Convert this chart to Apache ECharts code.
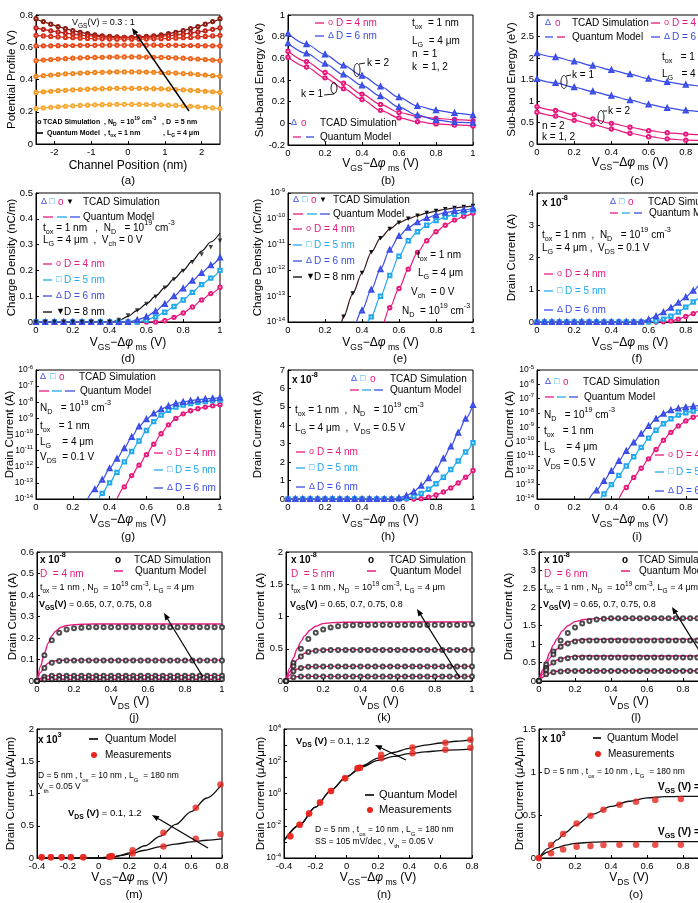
<!DOCTYPE html>
<html><head><meta charset="utf-8">
<script src="https://cdn.jsdelivr.net/npm/echarts@6/dist/echarts.min.js"></script>
<style>html,body{margin:0;padding:0;background:#fff;}#c{width:698px;height:903px;}</style>
</head><body><div id="c"></div>
<script>
// ---------------- DATA ----------------
// (a) potential profile vs channel position, VGS = 1.0 ... 0.3 V
const xA = [-2.5,-2.3,-2.1,-1.9,-1.7,-1.5,-1.3,-1.1,-0.9,-0.7,-0.5,-0.3,-0.1,0.1,0.3,0.5,0.7,0.9,1.1,1.3,1.5,1.7,1.9,2.1,2.3,2.5];
const aV10 = [.777,.759,.743,.728,.715,.703,.693,.684,.677,.671,.667,.664,.662,.662,.664,.667,.671,.677,.684,.693,.703,.715,.728,.743,.759,.777];
const aV09 = [.720,.711,.702,.695,.688,.682,.676,.672,.668,.665,.662,.661,.660,.660,.661,.662,.665,.668,.672,.676,.682,.688,.695,.702,.711,.720];
const aV08 = [.674,.670,.667,.664,.661,.659,.656,.655,.653,.652,.651,.650,.650,.650,.650,.651,.652,.653,.655,.656,.659,.661,.664,.667,.670,.674];
const aV07 = [.608,.609,.609,.610,.611,.611,.612,.612,.612,.613,.613,.613,.613,.613,.613,.613,.613,.612,.612,.612,.611,.611,.610,.609,.609,.608];
const aV06 = [.517,.521,.524,.527,.529,.532,.534,.536,.537,.538,.539,.540,.540,.540,.540,.539,.538,.537,.536,.534,.532,.529,.527,.524,.521,.517];
const aV05 = [.420,.424,.428,.431,.435,.437,.440,.442,.444,.445,.446,.447,.447,.447,.447,.446,.445,.444,.442,.440,.437,.435,.431,.428,.424,.420];
const aV04 = [.320,.324,.327,.331,.333,.336,.338,.340,.342,.343,.344,.345,.345,.345,.345,.344,.343,.342,.340,.338,.336,.333,.331,.327,.324,.320];
const aV03 = [.220,.224,.228,.231,.234,.237,.239,.241,.243,.244,.245,.246,.246,.246,.246,.245,.244,.243,.241,.239,.237,.234,.231,.228,.224,.220];
// (b),(c) sub-band energy
const xB = [0,0.1,0.2,0.3,0.4,0.5,0.6,0.7,0.8,0.9,1.0];
const b6k2 = [.83,.73,.635,.535,.44,.34,.24,.16,.12,.095,.075];
const b6k1 = [.74,.645,.55,.45,.35,.25,.15,.075,.03,.012,.005];
const b4k2 = [.665,.57,.47,.37,.27,.175,.10,.065,.045,.035,.025];
const b4k1 = [.61,.52,.42,.32,.22,.12,.05,.015,-.005,-.015,-.025];
const c6k1 = [2.11,2.02,1.92,1.82,1.72,1.62,1.52,1.44,1.38,1.34,1.31];
const c6k2 = [1.51,1.42,1.32,1.22,1.12,1.02,0.92,0.84,0.78,0.75,0.73];
const c4k2 = [0.87,0.78,0.68,0.58,0.48,0.39,0.31,0.26,0.23,0.21,0.20];
const c4k1 = [0.74,0.65,0.55,0.45,0.35,0.25,0.17,0.12,0.09,0.08,0.07];
// (d) charge density (linear)
const xD = [0,.05,.1,.15,.2,.25,.3,.35,.4,.45,.5,.55,.6,.65,.7,.75,.8,.85,.9,.95,1];
const dBlackL = [0,0,0,0,0,0,0,0,0,.006,.022,.045,.07,.1,.133,.167,.2,.237,.275,.31,.345];
const dBlackT = [0,0,0,0,0,0,0,0,0,.008,.025,.045,.07,.098,.133,.165,.198,.232,.262,.29,.315];
const dBlue = [0,0,0,0,0,0,0,0,0,0,0,.008,.02,.042,.07,.1,.13,.16,.19,.22,.25];
const dCyan = [0,0,0,0,0,0,0,0,0,0,0,0,.008,.02,.038,.06,.085,.115,.145,.17,.2];
const dPink = [0,0,0,0,0,0,0,0,0,0,0,0,0,0,.005,.018,.035,.058,.085,.11,.135];
// (e) charge density (log)
const xEk = [0.29,0.3,0.35,0.4,0.45,0.5,0.55,0.6,0.65,0.7,0.75,0.8,0.85,0.9,0.95,1.0];
const eBlack = [1e-14,1.58e-14,1.26e-13,7.94e-13,5.01e-12,1.78e-11,3.98e-11,7.08e-11,1e-10,1.32e-10,1.66e-10,2e-10,2.34e-10,2.63e-10,2.88e-10,3.16e-10];
const xEb = [0.37,0.4,0.45,0.5,0.55,0.6,0.65,0.7,0.75,0.8,0.85,0.9,0.95,1.0];
const eBlue = [1e-14,2.82e-14,1.78e-13,1.12e-12,6.31e-12,2.14e-11,4.47e-11,7.41e-11,1.07e-10,1.41e-10,1.74e-10,2e-10,2.24e-10,2.51e-10];
const xEc = [0.43,0.45,0.5,0.55,0.6,0.65,0.7,0.75,0.8,0.85,0.9,0.95,1.0];
const eCyan = [1e-14,1.58e-14,1e-13,6.31e-13,3.55e-12,1.41e-11,3.16e-11,5.62e-11,8.51e-11,1.17e-10,1.51e-10,1.82e-10,2.14e-10];
const xEp = [0.52,0.55,0.6,0.65,0.7,0.75,0.8,0.85,0.9,0.95,1.0];
const ePink = [1e-14,3.55e-14,2e-13,1.12e-12,5.01e-12,1.41e-11,3.16e-11,5.62e-11,8.91e-11,1.26e-10,1.66e-10];
// (f),(h) drain current linear (x1e-8 A)
const xF = [0,.04,.08,.12,.16,.2,.24,.28,.32,.36,.4,.44,.48,.52,.56,.6,.64,.68,.72,.76,.8,.84,.88,.92,.96,1];
const fBlue = [0,0,0,0,0,0,0,0,0,0,0,0,0,0,.01,.08,.18,.3,.44,.6,.77,.97,1.18,1.41,1.66,1.92];
const fCyan = [0,0,0,0,0,0,0,0,0,0,0,0,0,0,0,.005,.03,.09,.18,.31,.46,.62,.79,.98,1.18,1.38];
const fPink = [0,0,0,0,0,0,0,0,0,0,0,0,0,0,0,0,0,.005,.03,.09,.17,.26,.37,.5,.64,.79];
const hBlue = [0,0,0,0,0,0,0,0,0,0,0,0,0,0,0,.05,.18,.4,.72,1.12,1.6,2.2,2.85,3.6,4.35,5.1];
const hCyan = [0,0,0,0,0,0,0,0,0,0,0,0,0,0,0,0,.04,.14,.3,.53,.83,1.18,1.6,2.06,2.55,3.05];
const hPink = [0,0,0,0,0,0,0,0,0,0,0,0,0,0,0,0,0,0,.02,.1,.22,.38,.6,.87,1.18,1.55];
// (g),(i) drain current log (A)
const xGb = [0.28,0.32,0.36,0.4,0.44,0.48,0.52,0.56,0.6,0.64,0.68,0.72,0.76,0.8,0.84,0.88,0.92,0.96,1.0];
const xGc = [0.34,0.36,0.4,0.44,0.48,0.52,0.56,0.6,0.64,0.68,0.72,0.76,0.8,0.84,0.88,0.92,0.96,1.0];
const xGp = [0.44,0.48,0.52,0.56,0.6,0.64,0.68,0.72,0.76,0.8,0.84,0.88,0.92,0.96,1.0];
const gBlue = [1e-14,3.98e-14,1.58e-13,7.94e-13,3.16e-12,1.41e-11,7.08e-11,3.16e-10,8.91e-10,2e-9,3.72e-9,5.89e-9,8.32e-9,1.05e-8,1.26e-8,1.45e-8,1.58e-8,1.74e-8,1.91e-8];
const gCyan = [1e-14,2.24e-14,1e-13,4.47e-13,2e-12,8.91e-12,3.98e-11,1.78e-10,6.31e-10,1.58e-9,3.16e-9,5.01e-9,6.76e-9,8.32e-9,1e-8,1.12e-8,1.26e-8,1.35e-8];
const gPink = [1e-14,5.62e-14,2.82e-13,1.26e-12,5.62e-12,2.51e-11,1.12e-10,3.98e-10,1e-9,1.91e-9,2.95e-9,3.98e-9,5.01e-9,6.03e-9,7.08e-9];
const iBlue = [1e-14,3.98e-14,1.78e-13,8.91e-13,4.47e-12,2.24e-11,8.91e-11,3.55e-10,1.26e-9,3.98e-9,8.91e-9,1.58e-8,2.09e-8,2.51e-8,2.95e-8,3.39e-8,3.89e-8,4.47e-8,5.01e-8];
const iCyan = [1e-14,2.24e-14,1e-13,4.47e-13,2e-12,8.91e-12,3.98e-11,1.78e-10,6.31e-10,1.78e-9,3.98e-9,7.08e-9,1.05e-8,1.38e-8,1.7e-8,2e-8,2.29e-8,2.51e-8];
const iPink = [1e-14,6.31e-14,3.16e-13,1.41e-12,6.31e-12,2.82e-11,1.26e-10,4.47e-10,1.26e-9,2.82e-9,5.01e-9,7.59e-9,1e-8,1.26e-8,1.51e-8];
// (j),(k),(l) output characteristics (x1e-8 A)
const xJL = [0,.02,.04,.06,.08,.1,.13,.16,.2,.25,.3,.5,1];
const xJT = [0,.04,.08,.12,.16,.2,.24,.28,.32,.36,.4,.44,.48,.52,.56,.6,.64,.68,.72,.76,.8,.84,.88,.92,.96,1];
const jL1 = [0,.07,.13,.175,.21,.232,.25,.258,.262,.264,.265,.265,.265];
const jL2 = [0,.04,.068,.083,.091,.094,.096,.097,.097,.097,.097,.097,.097];
const jL3 = [0,.013,.021,.024,.025,.026,.026,.026,.026,.026,.026,.026,.026];
const jL4 = [0,.005,.007,.008,.008,.008,.008,.008,.008,.008,.008,.008,.008];
const jT1 = [0,.12,.19,.225,.24,.245,.248,.25,.25,.25,.25,.25,.25,.25,.25,.25,.25,.25,.25,.25,.25,.25,.25,.25,.25,.25];
const jT2 = [0,.06,.085,.093,.095,.095,.095,.095,.095,.095,.095,.095,.095,.095,.095,.095,.095,.095,.095,.095,.095,.095,.095,.095,.095,.095];
const jT3 = [0,.02,.025,.025,.025,.025,.025,.025,.025,.025,.025,.025,.025,.025,.025,.025,.025,.025,.025,.025,.025,.025,.025,.025,.025,.025];
const jT4 = [0,.007,.008,.008,.008,.008,.008,.008,.008,.008,.008,.008,.008,.008,.008,.008,.008,.008,.008,.008,.008,.008,.008,.008,.008,.008];
const kL1 = [0,.2,.36,.5,.61,.7,.79,.85,.89,.905,.91,.913,.915];
const kL2 = [0,.14,.25,.33,.39,.43,.46,.475,.483,.486,.487,.487,.487];
const kL3 = [0,.09,.15,.185,.205,.215,.222,.225,.226,.227,.227,.227,.227];
const kL4 = [0,.04,.06,.067,.07,.071,.072,.072,.072,.072,.072,.072,.072];
const kT1 = [0,.28,.5,.65,.75,.8,.83,.85,.86,.865,.87,.87,.87,.87,.87,.87,.87,.87,.87,.87,.87,.87,.87,.87,.87,.88];
const kT2 = [0,.23,.38,.45,.47,.478,.48,.48,.48,.48,.48,.48,.48,.48,.48,.48,.48,.48,.48,.48,.48,.48,.48,.48,.48,.48];
const kT3 = [0,.15,.2,.22,.225,.225,.225,.225,.225,.225,.225,.225,.225,.225,.225,.225,.225,.225,.225,.225,.225,.225,.225,.225,.225,.225];
const kT4 = [0,.06,.07,.07,.07,.07,.07,.07,.07,.07,.07,.07,.07,.07,.07,.07,.07,.07,.07,.07,.07,.07,.07,.07,.07,.07];
const lL1 = [0,.3,.55,.78,.98,1.15,1.36,1.5,1.61,1.67,1.69,1.7,1.7];
const lL2 = [0,.24,.45,.62,.76,.87,.98,1.05,1.1,1.125,1.13,1.135,1.135];
const lL3 = [0,.18,.32,.43,.51,.57,.62,.65,.67,.677,.68,.68,.68];
const lL4 = [0,.1,.17,.22,.25,.265,.275,.278,.28,.28,.28,.28,.28];
const lT1 = [0,.45,.8,1.1,1.3,1.45,1.56,1.63,1.67,1.69,1.7,1.7,1.7,1.7,1.7,1.7,1.7,1.7,1.7,1.7,1.7,1.7,1.7,1.7,1.7,1.7];
const lT2 = [0,.35,.72,.93,1.02,1.07,1.09,1.1,1.1,1.1,1.1,1.1,1.1,1.1,1.1,1.1,1.1,1.1,1.1,1.1,1.1,1.1,1.1,1.1,1.1,1.1];
const lT3 = [0,.3,.5,.58,.62,.635,.64,.64,.64,.64,.64,.64,.64,.64,.64,.64,.64,.64,.64,.64,.64,.64,.64,.64,.64,.64];
const lT4 = [0,.18,.24,.26,.27,.27,.27,.27,.27,.27,.27,.27,.27,.27,.27,.27,.27,.27,.27,.27,.27,.27,.27,.27,.27,.27];
// (m) transfer, linear (x1e3 uA/um)
const xML = [-0.4,-0.3,-0.2,-0.1,0,0.05,0.1,0.15,0.2,0.3,0.4,0.5,0.6,0.7,0.8];
const mHigh = [0,0,0,0,0.002,0.008,0.02,0.045,0.08,0.19,0.34,0.52,0.72,0.93,1.15];
const mLow = [0,0,0,0,0.002,0.008,0.02,0.04,0.065,0.12,0.175,0.215,0.25,0.275,0.295];
const xMM = [-0.37,-0.31,-0.24,-0.18,-0.1,0.07,0.085,0.22,0.42,0.63,0.79];
const mMeasLow = [0.01,0.01,0.01,0.01,0.01,0.02,0.025,0.07,0.18,0.3,0.37];
const mMeasHigh = [0.01,0.01,0.01,0.01,0.01,0.02,0.03,0.12,0.39,0.78,1.14];
// (n) transfer, log (uA/um)
const xNL = [-0.4,-0.3,-0.2,-0.1,0,0.1,0.2,0.3,0.4,0.5,0.6,0.7,0.8];
const nLow = [1.2e-3,1.12e-2,0.141,1.58,11.2,44.7,112,200,295,380,457,513,562];
const nHigh = [1.2e-3,1.12e-2,0.141,1.58,11.2,52.5,158,355,631,1000,1350,1740,2090];
const xNM = [-0.36,-0.3,-0.24,-0.17,-0.1,-0.01,0.07,0.085,0.22,0.42,0.63,0.79];
const nMeasLow = [2.24e-3,1.17e-2,5.75e-2,0.275,1.41,8.7,36.3,39.8,151,316,525,692];
const nMeasHigh = [2.24e-3,1.17e-2,5.75e-2,0.275,1.41,8.7,36.3,39.8,251,724,1410,2140];
// (o) output, measured (x1e3 uA/um)
const xOL = [0,0.05,0.1,0.15,0.2,0.3,0.4,0.5,0.6,0.7,0.8,0.9,1.0];
const oHigh = [0,0.11,0.21,0.3,0.38,0.51,0.6,0.66,0.7,0.713,0.716,0.716,0.716];
const oLow = [0,0.07,0.12,0.15,0.17,0.185,0.19,0.19,0.19,0.19,0.19,0.19,0.19];
const xOM = [0,0.067,0.134,0.209,0.286,0.358,0.447,0.539,0.646,0.788,0.93];
const oMeasHigh = [0,0.15,0.28,0.4,0.49,0.56,0.62,0.655,0.675,0.685,0.69];
const oMeasLow = [0,0.055,0.1,0.13,0.14,0.15,0.155,0.155,0.155,0.155,0.155];
const xTicksA = [-2,-1,0,1,2];

// ---------------- STYLE / BUILD ----------------
const FF = 'Liberation Sans, Arial, Helvetica, sans-serif';
const PINK='#e8197d', BLUE='#3a4ce6', CYAN='#20a9ee', RED='#e8261e', BLK='#111';
const ACOL = ['#8a1b12','#be2118','#da3019','#e8481b','#ee661c','#f2841d','#f59b25','#f7aa34'];

function R(fs,c,b){
  c=c||'#000'; const w=b?'bold':'normal'; const sf=Math.round(fs*0.72*10)/10;
  const base={fontFamily:FF,fill:c,color:c};
  return {
    s:Object.assign({},base,{fontSize:sf,fontWeight:w,lineHeight:sf+1,verticalAlign:'bottom'}),
    p:Object.assign({},base,{fontSize:sf,fontWeight:w,lineHeight:sf+1,verticalAlign:'top'}),
    i:Object.assign({},base,{fontSize:fs,fontWeight:w,fontStyle:'italic'}),
    B:Object.assign({},base,{fontSize:fs,fontWeight:'bold'}),
    S:Object.assign({},base,{fontSize:sf,fontWeight:'bold',lineHeight:sf+1,verticalAlign:'bottom'})
  };
}
const G=[];
function T(x,y,text,o){o=o||{};const fs=o.fs||10,c=o.c||'#000';
  return {type:'text',x:x,y:y,z:100,silent:true,style:{text:text,fill:c,fontSize:fs,fontFamily:FF,fontWeight:o.b?'bold':'normal',align:o.al||'left',verticalAlign:'middle',lineHeight:Math.round(fs*1.6),rich:R(fs,c,o.b)}};}
function L(x1,y1,x2,y2,c,w){return {type:'line',z:100,silent:true,shape:{x1:x1,y1:y1,x2:x2,y2:y2},style:{stroke:c||'#000',lineWidth:w||1.3}};}
function E(cx,cy,rx,ry){return {type:'ellipse',z:100,silent:true,shape:{cx:cx,cy:cy,rx:rx,ry:ry},style:{fill:'none',stroke:'#000',lineWidth:0.9}};}
function D(cx,cy,r,c){return {type:'circle',z:100,silent:true,shape:{cx:cx,cy:cy,r:r},style:{fill:c}};}
function A(x1,y1,x2,y2,w){const an=Math.atan2(y2-y1,x2-x1),h=7,hw=2.8;const bx=x2-h*Math.cos(an),by=y2-h*Math.sin(an);const px=-Math.sin(an)*hw,py=Math.cos(an)*hw;
  G.push(L(x1,y1,bx,by,'#000',w||1.2),{type:'polygon',z:100,silent:true,shape:{points:[[x2,y2],[bx+px,by+py],[bx-px,by-py]]},style:{fill:'#000'}});}
function leg(x,y,c,g,label){G.push(L(x,y,x+9,y,c,1.3),T(x+13,y,g,{c:c,fs:9}),T(x+21,y,label,{c:c}));}

const grids=[], xAxes=[], yAxes=[], series=[];
function grid(l,t,w,h){grids.push({left:l,top:t,width:w,height:h,show:true,borderColor:'#000',borderWidth:1,backgroundColor:'rgba(0,0,0,0)',containLabel:false,outerBoundsMode:'none'});return grids.length-1;}
const VGS='V{s|GS}−Δ{i|φ}{s| ms} (V)', VDS='V{s|DS} (V)';
const NAMEX={color:'#000',fontSize:12,fontFamily:FF,lineHeight:18,rich:R(12)};
const NAMEY={color:'#000',fontSize:11.5,fontFamily:FF,lineHeight:14};
function axisBase(){return {nameMoveOverlap:false,axisLine:{show:true,onZero:false,lineStyle:{color:'#000',width:1}},axisTick:{show:true,inside:true,length:3,lineStyle:{color:'#000'}},splitLine:{show:false},axisLabel:{color:'#000',fontSize:9.5,fontFamily:FF,margin:3}};}
function xax(gi,min,max,itv,name,gap,extra){const a=Object.assign(axisBase(),{gridIndex:gi,type:'value',min:min,max:max,interval:itv,name:name,nameLocation:'middle',nameGap:gap,nameTextStyle:NAMEX},extra||{});xAxes.push(a);}
function yax(gi,min,max,itv,name,gap){const a=Object.assign(axisBase(),{gridIndex:gi,type:'value',min:min,max:max,interval:itv,name:name,nameLocation:'middle',nameGap:gap,nameTextStyle:NAMEY});yAxes.push(a);}
function ylog(gi,min,max,split,name,gap,evenOnly){const a=Object.assign(axisBase(),{gridIndex:gi,type:'log',logBase:10,min:min,max:max,splitNumber:split,name:name,nameLocation:'middle',nameGap:gap,nameTextStyle:NAMEY});
  a.axisLabel={color:'#000',fontSize:8.5,fontFamily:FF,margin:3,lineHeight:12,formatter:function(v){const e=Math.round(Math.log10(v));if(evenOnly&&e%2!==0)return '';return '10{p|'+e+'}';},rich:{p:{fontSize:6,fontFamily:FF,color:'#000',lineHeight:7,verticalAlign:'top'}}};
  yAxes.push(a);}
function line(gi,xs,ys,color,o){o=o||{};
  return {type:'line',xAxisIndex:gi,yAxisIndex:gi,animation:false,silent:true,clip:false,
    data:xs.map(function(x,k){return (o.skip0&&k===0)?{value:[x,ys[k]],symbol:'none'}:[x,ys[k]];}),
    smooth:o.smooth===undefined?0.3:o.smooth,smoothMonotone:'x',
    symbol:o.sym||'none',showSymbol:!!o.sym,symbolSize:o.ss||4,symbolRotate:o.rot||0,
    lineStyle:{color:color,width:o.w||1.2},itemStyle:{color:o.sc||color,borderWidth:0.9},z:o.z||2};}
function dots(gi,xs,ys,color,sym,ss,o){o=o||{};
  return {type:'scatter',xAxisIndex:gi,yAxisIndex:gi,animation:false,silent:true,clip:false,
    data:xs.map(function(x,k){return [x,ys[k]];}),symbol:sym,symbolSize:ss,symbolRotate:o.rot||0,
    itemStyle:{color:color,borderWidth:0.9},z:3};}
const CI={sym:'emptyCircle',ss:3.4}, TR={sym:'emptyTriangle',ss:4}, SQ={sym:'emptyRect',ss:3.4};
function w(o,e){return Object.assign({},o,e);}

// ---- grids ----
const ga=grid(36,15,184,129), gb=grid(288,15,185,130), gc=grid(537,15,186,129);
const gd=grid(36,193,184,129), ge=grid(288,193,185,129), gf=grid(537,193,186,129);
const gg=grid(36,370,184,129), gh=grid(288,370,185,129), gI=grid(537,370,186,129);
const gj=grid(37,552,185,129), gk=grid(286,552,186,129), gl=grid(539,552,180,129);
const gm=grid(37,729,185,129), gn=grid(284,729,188,129), go=grid(539,729,180,129);

// ---- axes ----
xax(ga,-2.5,2.5,null,'Channel Position (nm)',13,{axisLabel:{color:'#000',fontSize:9.5,fontFamily:FF,margin:3,customValues:xTicksA},axisTick:{show:true,inside:true,length:3,lineStyle:{color:'#000'},customValues:xTicksA}});
yax(ga,0,0.8,0.2,'Potential Profile (V)',17);
xax(gb,0,1,0.2,VGS,10); yax(gb,-0.2,1,0.2,'Sub-band Energy (eV)',21);
xax(gc,0,1,0.2,VGS,10); yax(gc,0,3,0.5,'Sub-band Energy (eV)',18);
xax(gd,0,1,0.2,VGS,12); yax(gd,0,0.5,0.1,'Charge Density (nC/m)',17);
xax(ge,0,1,0.2,VGS,12); ylog(ge,1e-14,1e-9,5,'Charge Density (nC/m)',23);
xax(gf,0,1,0.2,VGS,12); yax(gf,0,4,1,'Drain Current (A)',18);
xax(gg,0,1,0.2,VGS,12); ylog(gg,1e-14,1e-6,8,'Drain Current (A)',19);
xax(gh,0,1,0.2,VGS,12); yax(gh,0,7,1,'Drain Current (A)',23);
xax(gI,0,1,0.2,VGS,12); ylog(gI,1e-14,1e-5,9,'Drain Current (A)',20);
xax(gj,0,1,0.2,VDS,12); yax(gj,0,0.6,0.1,'Drain Current (A)',17);
xax(gk,0,1,0.2,VDS,12); yax(gk,0,2,0.5,'Drain Current (A)',18);
xax(gl,0,1,0.2,VDS,12); yax(gl,0,3.5,0.5,'Drain Current (A)',23);
xax(gm,-0.4,0.8,0.2,VGS,11); yax(gm,0,2,0.5,'Drain Current (μA/μm)',19);
xax(gn,-0.4,0.8,0.2,VGS,11); ylog(gn,1e-4,1e4,8,'Drain Current (μA/μm)',16,true);
xax(go,0,1,0.2,VDS,11); yax(go,0,1.5,0.5,'Drain Current (μA/μm)',12);

// ---- series ----
[aV10,aV09,aV08,aV07,aV06,aV05,aV04,aV03].forEach(function(a,k){series.push(line(ga,xA,a,ACOL[k],{sym:'emptyCircle',ss:3.2,w:1.3}));});
series.push(line(gb,xB,b4k1,PINK,CI),line(gb,xB,b4k2,PINK,CI),line(gb,xB,b6k1,BLUE,TR),line(gb,xB,b6k2,BLUE,TR));
series.push(line(gc,xB,c4k1,PINK,CI),line(gc,xB,c4k2,PINK,CI),line(gc,xB,c6k2,BLUE,TR),line(gc,xB,c6k1,BLUE,TR));
series.push(line(gd,xD,dBlackL,BLK),dots(gd,xD,dBlackT,BLK,'triangle',4.5,{rot:180}),
  line(gd,xD,dPink,PINK,CI),line(gd,xD,dCyan,CYAN,SQ),line(gd,xD,dBlue,BLUE,TR));
series.push(line(ge,xEk,eBlack,'#3a1616',{sym:'triangle',ss:4.5,rot:180,sc:BLK,skip0:true}),
  line(ge,xEp,ePink,PINK,w(CI,{skip0:true})),line(ge,xEc,eCyan,CYAN,w(SQ,{skip0:true})),line(ge,xEb,eBlue,BLUE,w(TR,{skip0:true})));
series.push(line(gf,xF,fPink,PINK,CI),line(gf,xF,fCyan,CYAN,SQ),line(gf,xF,fBlue,BLUE,TR));
series.push(line(gg,xGp,gPink,PINK,w(CI,{skip0:true})),line(gg,xGc,gCyan,CYAN,w(SQ,{skip0:true})),line(gg,xGb,gBlue,BLUE,w(TR,{skip0:true})));
series.push(line(gh,xF,hPink,PINK,CI),line(gh,xF,hCyan,CYAN,SQ),line(gh,xF,hBlue,BLUE,TR));
series.push(line(gI,xGp,iPink,PINK,w(CI,{skip0:true})),line(gI,xGc,iCyan,CYAN,w(SQ,{skip0:true})),line(gI,xGb,iBlue,BLUE,w(TR,{skip0:true})));
[[jL1,jT1],[jL2,jT2],[jL3,jT3],[jL4,jT4]].forEach(function(p){series.push(line(gj,xJL,p[0],PINK,{w:1.4}),dots(gj,xJT,p[1],'#222','emptyCircle',4));});
[[kL1,kT1],[kL2,kT2],[kL3,kT3],[kL4,kT4]].forEach(function(p){series.push(line(gk,xJL,p[0],PINK,{w:1.4}),dots(gk,xJT,p[1],'#222','emptyCircle',4));});
[[lL1,lT1],[lL2,lT2],[lL3,lT3],[lL4,lT4]].forEach(function(p){series.push(line(gl,xJL,p[0],PINK,{w:1.4}),dots(gl,xJT,p[1],'#222','emptyCircle',4));});
series.push(line(gm,xML,mHigh,BLK,{w:1.3}),line(gm,xML,mLow,BLK,{w:1.3}),dots(gm,xMM,mMeasHigh,RED,'circle',6.5),dots(gm,xMM,mMeasLow,RED,'circle',6.5));
series.push(line(gn,xNL,nHigh,BLK,{w:1.3}),line(gn,xNL,nLow,BLK,{w:1.3}),dots(gn,xNM,nMeasHigh,RED,'circle',6.5),dots(gn,xNM,nMeasLow,RED,'circle',6.5));
series.push(line(go,xOL,oHigh,BLK,{w:1.3}),line(go,xOL,oLow,BLK,{w:1.3}),dots(go,xOM,oMeasHigh,RED,'circle',6.5),dots(go,xOM,oMeasLow,RED,'circle',6.5));

// ---- annotations ----
// (a)
G.push(T(72,23,'V{s|GS}(V) = 0.3 : 1',{fs:9})); A(189,111,132,28,1.4);
G.push(T(37,122,'o',{fs:7.5,b:true}),T(43,122,'TCAD Simulation',{fs:7,b:true}),T(104,122,', N{s|D}  = 10{p|19} cm{p|-3}',{fs:7,b:true}),T(162,122,', D  = 5 nm',{fs:7,b:true}));
G.push(L(37,133,43,133,'#000',1.6),T(47,133,'Quantum Model',{fs:7,b:true}),T(104,133,', t{s|ox} = 1 nm',{fs:7,b:true}),T(163,133,', L{s|G} = 4 μm',{fs:7,b:true}));
// (b)
leg(315,23,PINK,'o','D = 4 nm'); leg(315,36,BLUE,'Δ','D = 6 nm');
G.push(T(412,23,'t{s|ox}  = 1 nm'),T(412,41,'L{s|G}  = 4 μm'),T(412,54,'n  = 1'),T(412,67,'k  = 1, 2'));
G.push(T(291,123,'Δ',{c:BLUE,fs:9}),T(301,123,'o',{c:PINK}),T(320,123,'TCAD Simulation'));
G.push(L(293,137,301,137,PINK),L(306,137,314,137,BLUE),T(320,137,'Quantum Model'));
G.push(E(357,70,3,6.5),L(359,64,365,63,'#000',0.9),T(367,63,'k = 2'));
G.push(E(334,88,3,5.5),L(334,94,324,95,'#000',0.9),T(301,94,'k = 1'));
// (c)
G.push(T(545,23,'Δ',{c:BLUE,fs:9}),T(555,23,'o',{c:PINK}),T(572,23,'TCAD Simulation'));
G.push(L(545,37,553,37,BLUE),L(557,37,565,37,PINK),T(572,37,'Quantum Model'));
leg(651,23,PINK,'o','D = 4 nm'); leg(651,37,BLUE,'Δ','D = 6 nm');
G.push(T(662,57,'t{s|ox}   = 1 nm'),T(662,74,'L{s|G}   = 4 μm'),T(542,126,'n = 2'),T(542,137,'k = 1, 2'));
G.push(E(564,82,3,6.5),L(566,76,571,75,'#000',0.9),T(572,75,'k = 1'));
G.push(E(601,117,3,6.5),L(603,111,607,111,'#000',0.9),T(608,111,'k = 2'));
// (d)
G.push(T(41,202,'Δ',{c:BLUE,fs:9}),T(49,202,'□',{c:CYAN,fs:9}),T(58,202,'o',{c:PINK}),T(66,202,'▼',{fs:8}),T(83,202,'TCAD Simulation'));
G.push(L(43,217,53,217,PINK),L(57,217,67,217,CYAN),L(70,217,80,217,BLUE),T(83,217,'Quantum Model'));
G.push(T(43,228,'t{s|ox} = 1 nm   ,  N{s|D}   = 10{p|19} cm{p|-3}'),T(43,240,'L{s|G} = 4 μm  ,  V{s|ch} = 0 V'));
leg(43,264,PINK,'o','D = 4 nm'); leg(43,280,CYAN,'□','D = 5 nm'); leg(43,296,BLUE,'Δ','D = 6 nm'); leg(43,312,'#000','▼','D = 8 nm');
// (e)
G.push(T(293,200,'Δ',{c:BLUE,fs:9}),T(302,200,'□',{c:CYAN,fs:9}),T(311,200,'o',{c:PINK}),T(319,200,'▼',{fs:8}),T(333,200,'TCAD Simulation'));
G.push(L(293,214,303,214,PINK),L(307,214,317,214,CYAN),L(320,214,330,214,BLUE),T(333,214,'Quantum Model'));
leg(293,229,PINK,'o','D = 4 nm'); leg(293,245,CYAN,'□','D = 5 nm'); leg(293,261,BLUE,'Δ','D = 6 nm'); leg(293,277,'#000','▼','D = 8 nm');
G.push(T(417,255,'t{s|ox} = 1 nm'),T(418,273,'L{s|G} = 4 μm'),T(411,292,'V{s|ch}  = 0 V'),T(402,311,'N{s|D}  = 10{p|19} cm{p|-3}'));
// (f)
G.push(T(542,203,'x 10{p|-8}',{b:true}),T(610,202,'Δ',{c:BLUE,fs:9}),T(619,202,'□',{c:CYAN,fs:9}),T(628,202,'o',{c:PINK}),T(648,202,'TCAD Simulation'));
G.push(L(610,213,618,213,PINK),L(622,213,630,213,CYAN),L(634,213,642,213,BLUE),T(649,213,'Quantum Model'));
G.push(T(542,235,'t{s|ox} = 1 nm  ,  N{s|D}   = 10{p|19} cm{p|-3}'),T(542,248,'L{s|G} = 4 μm ,  V{s|DS} = 0.1 V'));
leg(544,274,PINK,'o','D = 4 nm'); leg(544,291,CYAN,'□','D = 5 nm'); leg(544,310,BLUE,'Δ','D = 6 nm');
// (g)
G.push(T(40,377,'Δ',{c:BLUE,fs:9}),T(50,377,'□',{c:CYAN,fs:9}),T(59,377,'o',{c:PINK}),T(79,377,'TCAD Simulation'));
G.push(L(39,391,49,391,PINK),L(52,391,62,391,CYAN),L(65,391,75,391,BLUE),T(80,391,'Quantum Model'));
G.push(T(40,408,'N{s|D}   = 10{p|19} cm{p|-3}'),T(40,426,'t{s|ox}   = 1 nm'),T(40,442,'L{s|G}    = 4 μm'),T(40,457,'V{s|DS}  = 0.1 V'));
leg(154,453,PINK,'o','D = 4 nm'); leg(154,470,CYAN,'□','D = 5 nm'); leg(154,488,BLUE,'Δ','D = 6 nm');
// (h)
G.push(T(292,380,'x 10{p|-8}',{b:true}),T(351,379,'Δ',{c:BLUE,fs:9}),T(360,379,'□',{c:CYAN,fs:9}),T(370,379,'o',{c:PINK}),T(390,379,'TCAD Simulation'));
G.push(L(350,390,359,390,PINK),L(362,390,371,390,CYAN),L(374,390,383,390,BLUE),T(390,390,'Quantum Model'));
G.push(T(295,410,'t{s|ox} = 1 nm  ,  N{s|D}   = 10{p|19} cm{p|-3}'),T(295,428,'L{s|G} = 4 μm  ,  V{s|DS} = 0.5 V'));
leg(296,452,PINK,'o','D = 4 nm'); leg(296,468,CYAN,'□','D = 5 nm'); leg(296,487,BLUE,'Δ','D = 6 nm');
// (i)
G.push(T(545,382,'Δ',{c:BLUE,fs:9}),T(554,382,'□',{c:CYAN,fs:9}),T(563,382,'o',{c:PINK}),T(583,382,'TCAD Simulation'));
G.push(L(545,397,554,397,PINK),L(557,397,566,397,CYAN),L(569,397,578,397,BLUE),T(584,397,'Quantum Model'));
G.push(T(544,415,'N{s|D}   = 10{p|19} cm{p|-3}'),T(544,431,'t{s|ox}   = 1 nm'),T(544,447,'L{s|G}    = 4 μm'),T(544,463,'V{s|DS} = 0.5 V'));
leg(655,455,PINK,'o','D = 4 nm'); leg(655,472,CYAN,'□','D = 5 nm'); leg(655,491,BLUE,'Δ','D = 6 nm');
// (j),(k),(l)
function outLeg(x0,xc,xt,dlabel,ax1,ay1,ax2,ay2){
  G.push(T(x0,560,'x 10{p|-8}',{b:true}),T(xc-2,560,'o',{b:true}),T(xt,560,'TCAD Simulation'));
  G.push(L(xc-3,571,xc+6,571,PINK,1.5),T(xt+1,571,'Quantum Model'));
  G.push(T(x0,574,dlabel,{c:PINK}),T(x0,588,'t{s|ox} = 1 nm , N{s|D}  = 10{p|19} cm{p|-3}, L{s|G} = 4 μm',{fs:9}));
  G.push(T(x0-1,605,'{B|V}{S|GS}{B|(V)} = 0.65, 0.7, 0.75, 0.8',{fs:9}));
  A(ax1,ay1,ax2,ay2,1.2);
}
outLeg(40,117,134,'D  = 4 nm',203,677,164,613);
outLeg(291,370,389,'D  = 5 nm',460,678,417,609);
outLeg(544,624,638,'D  = 6 nm',715,676,672,607);
// (m)
G.push(T(38,740,'x 10{p|3}',{b:true}),L(89,739,98,739,'#000',1.6),T(105,739,'Quantum Model',{fs:10}),D(94,755,3,RED),T(105,755,'Measurements',{fs:10}));
G.push(T(38,776,'D = 5 nm , t{s|ox} = 10 nm , L{s|G}  = 180 nm',{fs:8.5}),T(38,787,'V{s|th}= 0.05 V',{fs:8.5}));
G.push(T(68,813,'{B|V}{S|DS}{B| (V)} = 0.1, 1.2',{fs:9.5})); A(208,848,152,815,1.2);
// (n)
G.push(T(296,741,'{B|V}{S|DS}{B| (V)} = 0.1, 1.2',{fs:9.5})); A(406,760,375,745,1.2);
G.push(L(365,795,374,795,'#000',1.6),T(379,795,'Quantum Model',{fs:11}),D(370,810,3,RED),T(379,810,'Measurements',{fs:11}));
G.push(T(315,830,'D = 5 nm , t{s|ox} = 10 nm , L{s|G} = 180 nm',{fs:8.5}),T(315,842,'SS = 105 mV/dec , V{s|th} = 0.05 V',{fs:8.5}));
// (o)
G.push(T(542,739,'x 10{p|3}',{b:true}),L(593,738,601,738,'#000',1.6),T(607,738,'Quantum Model',{fs:10}),D(598,754,3,RED),T(608,754,'Measurements',{fs:10}));
G.push(T(544,772,'D = 5 nm , t{s|ox} = 10 nm , L{s|G}  = 180 nm',{fs:8.5}),T(658,787,'{B|V}{S|GS}{B| (V) =}',{fs:10}),T(658,832,'{B|V}{S|GS}{B| (V) =}',{fs:10}));
// panel letters
[['(a)',128,181],['(b)',388,181],['(c)',637,181],['(d)',128,359],['(e)',400,359],['(f)',637,359],['(g)',128,537],['(h)',388,537],['(i)',637,537],
 ['(j)',134,718],['(k)',384,718],['(l)',636,718],['(m)',134,895],['(n)',384,895],['(o)',636,895]].forEach(function(p){G.push(T(p[1],p[2],p[0],{fs:11.5,al:'center'}));});

const chart = echarts.init(document.getElementById('c'), null, {renderer:'canvas', width:698, height:903});
chart.setOption({
  backgroundColor:'#fff', animation:false, textStyle:{fontFamily:FF},
  grid:grids, xAxis:xAxes, yAxis:yAxes, series:series, graphic:{elements:G}
});
</script></body></html>
